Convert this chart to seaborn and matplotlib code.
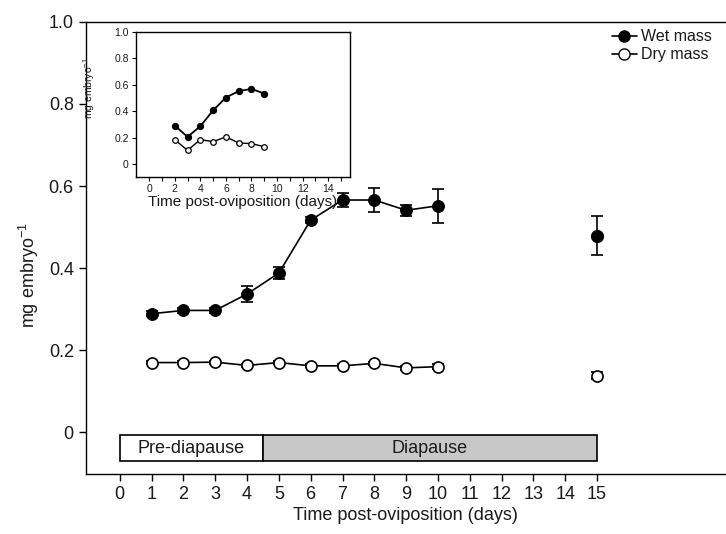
import numpy as np
import pandas as pd
import matplotlib
matplotlib.use("Agg")
import matplotlib.pyplot as plt
from matplotlib.lines import Line2D
import seaborn as sns

# main panel data (mean +/- SE)
days = [1, 2, 3, 4, 5, 6, 7, 8, 9, 10, 15]
wet_mass = [0.289, 0.297, 0.297, 0.337, 0.388, 0.517, 0.566, 0.566, 0.541, 0.552, 0.479]
wet_err = [0.006, 0.007, 0.006, 0.020, 0.015, 0.008, 0.016, 0.030, 0.013, 0.042, 0.047]
dry_mass = [0.170, 0.170, 0.171, 0.163, 0.170, 0.162, 0.162, 0.168, 0.157, 0.160, 0.138]
dry_err = [0.004, 0.004, 0.004, 0.004, 0.004, 0.004, 0.004, 0.004, 0.004, 0.006, 0.009]

# inset data
inset_days = [2, 3, 4, 5, 6, 7, 8, 9]
inset_wet = [0.290, 0.205, 0.285, 0.405, 0.502, 0.550, 0.567, 0.532]
inset_dry = [0.184, 0.103, 0.184, 0.169, 0.205, 0.159, 0.154, 0.131]

# developmental phases
phase_names = ["Pre-diapause", "Diapause"]
phase_start = [0, 4.5]
phase_end = [4.5, 15]
phase_colors = ["white", "#c8c8c8"]

TXT = "#1a1a1a"

sns.set_theme(style="ticks")
plt.rcParams["font.family"] = ["Liberation Sans", "DejaVu Sans"]
plt.rcParams["mathtext.fontset"] = "custom"
plt.rcParams["mathtext.rm"] = "Liberation Sans"
plt.rcParams["mathtext.it"] = "Liberation Sans:italic"
plt.rcParams["axes.linewidth"] = 1.0
plt.rcParams["xtick.direction"] = "out"
plt.rcParams["ytick.direction"] = "out"

df = pd.DataFrame({"day": days, "wet": wet_mass, "wet_se": wet_err,
                   "dry": dry_mass, "dry_se": dry_err})
connected = df[df["day"] <= 10]
late = df[df["day"] > 10]

fig = plt.figure(figsize=(7.26, 5.34), dpi=100)
ax = fig.add_axes([0.118, 0.112, 0.882, 0.847])

# error bars
for col, se in [("wet", "wet_se"), ("dry", "dry_se")]:
    ax.errorbar(df["day"], df[col], yerr=df[se], fmt="none", ecolor="black",
                elinewidth=1.2, capsize=4, capthick=1.2, zorder=2)

# lines
sns.lineplot(data=connected, x="day", y="wet", ax=ax, color="black", lw=1.2,
             marker="o", markersize=8.5, markerfacecolor="black",
             markeredgecolor="black", zorder=3)
sns.lineplot(data=connected, x="day", y="dry", ax=ax, color="black", lw=1.2,
             marker="o", markersize=8, markerfacecolor="white",
             markeredgecolor="black", markeredgewidth=1.2, zorder=3)
ax.plot(late["day"], late["wet"], "o", color="black", ms=8.5, zorder=3)
ax.plot(late["day"], late["dry"], "o", mfc="white", mec="black", mew=1.2, ms=8, zorder=3)

# phase bar
for name, s, e, c in zip(phase_names, phase_start, phase_end, phase_colors):
    ax.barh(-0.0385, e - s, left=s, height=0.063, color=c, edgecolor="black",
            linewidth=1.2, zorder=2)
    ax.text((s + e) / 2, -0.0385, name, ha="center", va="center", fontsize=13,
            color=TXT, zorder=3)

ax.set_xlim(-1.07, 19.05)
ax.set_ylim(-0.102, 1.0)
ax.set_xticks(range(0, 16))
ax.set_yticks([0, 0.2, 0.4, 0.6, 0.8, 1.0])
ax.set_yticklabels(["0", "0.2", "0.4", "0.6", "0.8", "1.0"])
ax.tick_params(labelsize=13, length=5, width=1.0, color="black", labelcolor=TXT)
ax.set_xlabel("Time post-oviposition (days)", fontsize=13, color=TXT, labelpad=3)
ax.set_ylabel("mg embryo$^{-1}$", fontsize=13, color=TXT)
ax.yaxis.set_label_coords(-0.07, 0.44)
ax.spines["right"].set_visible(False)
for sp in ["left", "bottom", "top"]:
    ax.spines[sp].set_color("black")

handles = [
    Line2D([], [], color="black", lw=1.2, marker="o", ms=8, mfc="black", mec="black"),
    Line2D([], [], color="black", lw=1.2, marker="o", ms=8, mfc="white", mec="black"),
]
leg = ax.legend(handles, ["Wet mass", "Dry mass"], loc="upper right",
                bbox_to_anchor=(0.988, 0.998), borderaxespad=0, frameon=False,
                fontsize=11.5, handlelength=1.6, handletextpad=0.25, labelspacing=0.2)
for t in leg.get_texts():
    t.set_color(TXT)

# inset
axi = fig.add_axes([0.187, 0.669, 0.295, 0.272])
sns.lineplot(x=inset_days, y=inset_wet, ax=axi, color="black", lw=1.3,
             marker="o", markersize=4.5, markerfacecolor="black", markeredgecolor="black")
sns.lineplot(x=inset_days, y=inset_dry, ax=axi, color="black", lw=1.0,
             marker="o", markersize=4, markerfacecolor="white",
             markeredgecolor="black", markeredgewidth=0.9)
axi.set_xlim(-1.05, 15.7)
axi.set_ylim(-0.096, 1.0)
axi.set_xticks(range(0, 15, 2))
axi.set_xticks(range(1, 16, 2), minor=True)
axi.set_yticks([0, 0.2, 0.4, 0.6, 0.8, 1.0])
axi.set_yticklabels(["0", "0.2", "0.4", "0.6", "0.8", "1.0"])
axi.tick_params(which="both", labelsize=7.5, length=3, width=0.8, color="black",
                labelcolor=TXT, pad=2)
axi.set_xlabel("Time post-oviposition (days)", fontsize=11, color=TXT, labelpad=1)
axi.set_ylabel("mg embryo$^{-1}$", fontsize=7.5, color=TXT)
axi.yaxis.set_label_coords(-0.18, 0.61)
for sp in axi.spines.values():
    sp.set_color("black")
    sp.set_linewidth(1.0)

fig.savefig("out.png", dpi=100)
